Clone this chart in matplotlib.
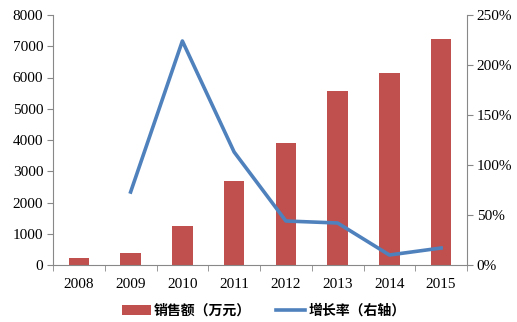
import numpy as np
import matplotlib
matplotlib.use("Agg")
from matplotlib import pyplot as plt
from matplotlib.ticker import FuncFormatter

years = ["2008", "2009", "2010", "2011", "2012", "2013", "2014", "2015"]
sales = [220, 380, 1250, 2700, 3890, 5580, 6150, 7220]
growth_years = ["2009", "2010", "2011", "2012", "2013", "2014", "2015"]
growth = [73, 224, 113, 44, 42, 10, 17]

plt.rcParams['font.family'] = ['Liberation Serif', 'Noto Sans CJK SC']

fig = plt.figure(figsize=(5.17, 3.22), dpi=100)
ax = fig.add_axes([53/517, 1-265/322, (467-53)/517, 250/322])
ax2 = ax.twinx()

x = np.arange(len(years))
b = ax.bar(x, sales, width=0.4, color="#C0504D", zorder=2)
gx = [years.index(y) for y in growth_years]
l, = ax2.plot(gx, growth, color="#4F81BD", lw=2.6, zorder=3)

ax.set_xlim(-0.5, len(years)-0.5)
ax.set_ylim(0, 8000)
ax.set_yticks(range(0, 8001, 1000))
ax2.set_ylim(0, 250)
ax2.set_yticks(range(0, 251, 50))
ax2.yaxis.set_major_formatter(FuncFormatter(lambda v, p: "%d%%" % v))

ax.set_xticks(x)
ax.set_xticklabels(years)
ax.set_xticks(np.arange(-0.5, len(years), 1), minor=True)
ax.tick_params(axis='x', which='major', length=0, pad=9)
ax.tick_params(axis='x', which='minor', length=4, direction='out', color='#888888')
ax.tick_params(axis='y', length=4, direction='out', color='#888888', pad=3)
ax2.tick_params(axis='y', length=4, direction='out', color='#888888', pad=3)

for a in (ax, ax2):
    a.spines['top'].set_visible(False)
    for s in ('left', 'right', 'bottom'):
        a.spines[s].set_color('#888888')
    a.tick_params(labelsize=11)
ax.spines['right'].set_visible(False)
ax2.spines['left'].set_visible(False)
ax2.spines['bottom'].set_visible(False)

fig.legend([b, l], ["销售额（万元）", "增长率（右轴）"], loc='center',
           bbox_to_anchor=(0.51, 1-311/322), ncol=2, frameon=False,
           handlelength=2.1, handletextpad=0.2, columnspacing=1.8,
           prop={'family': 'Noto Sans CJK SC', 'weight': 'bold', 'size': 10})

fig.savefig("out.png", dpi=100)
